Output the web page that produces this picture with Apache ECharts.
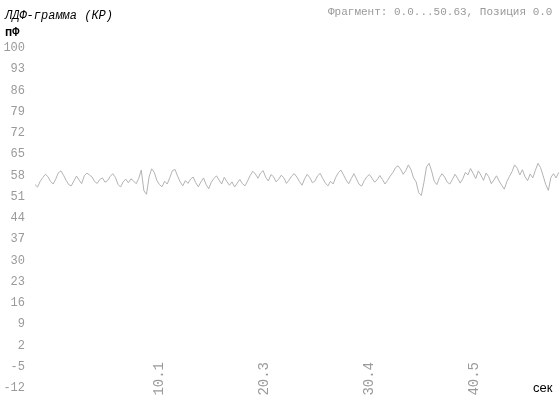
<!DOCTYPE html>
<html><head><meta charset="utf-8">
<script src="https://cdn.jsdelivr.net/npm/echarts@6/dist/echarts.min.js"></script>
<style>html,body{margin:0;padding:0;background:#fff}#c{width:560px;height:399px}</style>
</head><body><div id="c"></div>
<script>
const titleText = 'ЛДФ-грамма (КР)';
const unitText = 'пФ';
const headerText = 'Фрагмент: 0.0...50.63, Позиция 0.0';
const xUnit = 'сек';
const sampleStep = 0.25; // seconds between samples
const ldfValues = [
 55.0,54.2,56.1,57.3,58.4,57.6,56.0,55.2,56.8,58.9,
 59.5,58.1,56.4,55.0,54.6,56.2,57.8,56.5,55.3,57.9,
 58.8,58.2,57.5,56.0,55.4,56.7,57.2,55.8,56.3,57.7,
 58.6,57.4,55.1,54.2,55.9,56.8,55.6,56.9,56.2,55.3,
 57.0,59.8,53.0,51.8,57.5,60.2,59.1,56.4,55.0,54.3,
 56.1,55.2,57.3,59.6,60.0,57.8,55.9,54.6,56.3,55.4,
 56.8,57.5,55.6,54.3,55.9,57.2,55.0,53.6,55.8,57.0,
 57.9,56.5,55.2,57.4,56.0,54.8,55.9,54.2,55.5,56.7,
 55.3,54.6,56.2,58.0,59.4,58.5,57.1,58.8,59.6,57.4,
 56.2,58.3,57.6,55.9,56.8,58.1,57.2,55.4,56.5,57.8,
 58.6,57.5,56.0,54.8,56.9,58.4,57.3,55.6,56.2,57.9,
 58.7,57.0,55.5,54.6,56.1,55.2,57.4,58.9,59.8,58.2,
 56.5,55.3,57.0,58.6,56.9,55.1,54.5,56.3,57.6,58.3,
 57.1,55.8,56.6,58.0,56.7,55.2,56.4,57.8,58.9,60.5,
 61.2,60.1,58.4,59.6,61.5,60.0,57.2,55.9,52.3,51.4,
 55.6,60.8,62.0,59.4,56.1,55.0,57.3,58.6,57.5,55.8,
 55.2,56.7,58.4,57.1,55.5,56.9,59.0,58.2,60.3,58.7,
 57.0,59.5,58.1,56.4,58.8,57.6,55.3,56.5,57.9,56.2,
 54.8,53.5,56.0,57.7,59.3,61.5,60.4,58.2,59.9,57.6,
 56.3,58.5,57.2,59.7,62.0,60.6,57.9,55.0,53.1,57.4,
 58.6,57.2,59.0
];
const xRange = [0, 50.625];
const xTickValues = [10.125, 20.25, 30.375, 40.5];
const xTickLabels = ['10.1', '20.3', '30.4', '40.5'];
const yRange = [-12, 100];
const yStep = 7;

const seriesData = ldfValues.map((v, i) => [i * sampleStep, v]);

const chart = echarts.init(document.getElementById('c'));
chart.setOption({
  animation: false,
  backgroundColor: '#fff',
  grid: { left: 35, right: 0, top: 48, bottom: 11 },
  xAxis: {
    type: 'value', min: xRange[0], max: xRange[1],
    offset: -36,
    axisLine: { show: false }, axisTick: { show: false }, splitLine: { show: false },
    axisLabel: {
      customValues: xTickValues,
      formatter: v => xTickLabels[xTickValues.indexOf(v)] ?? '',
      rotate: 90, margin: 10, color: '#9a9a9a',
      fontFamily: 'Liberation Mono', fontSize: 14,
      verticalAlign: 'top', lineHeight: 38
    }
  },
  yAxis: {
    type: 'value', min: yRange[0], max: yRange[1], interval: yStep,
    axisLine: { show: false }, axisTick: { show: false }, splitLine: { show: false },
    axisLabel: { color: '#9a9a9a', fontFamily: 'Liberation Mono', fontSize: 12, margin: 10 }
  },
  series: [{
    type: 'line', data: seriesData, showSymbol: false,
    lineStyle: { color: '#b4b4b4', width: 1 }
  }],
  graphic: [
    { type: 'text', left: 5, top: 10, style: { text: titleText, fill: '#000', font: 'italic 12px "Liberation Mono"' } },
    { type: 'text', left: 5, top: 27, style: { text: unitText, fill: '#000', font: 'bold 12px "Liberation Mono"' } },
    { type: 'text', left: 328, top: 7, style: { text: headerText, fill: '#9a9a9a', font: '11px "Liberation Mono"' } },
    { type: 'text', left: 533, top: 382, style: { text: xUnit, fill: '#000', font: '13px "Liberation Sans"' } }
  ]
});
</script></body></html>
